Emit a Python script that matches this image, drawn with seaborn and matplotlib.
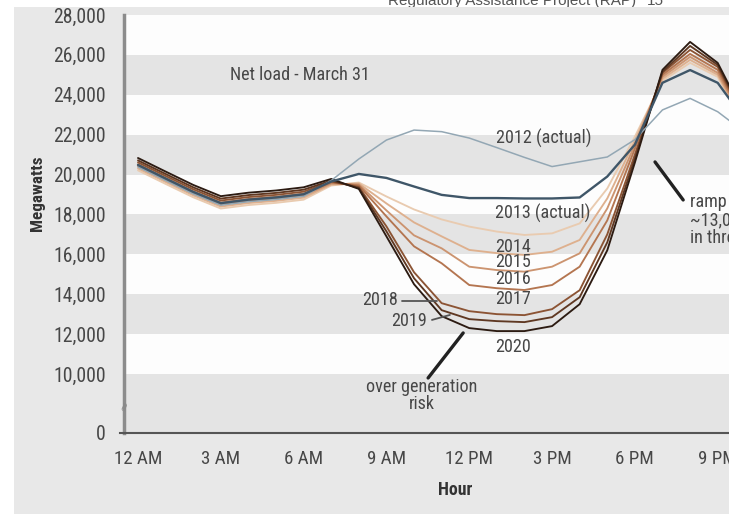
import os
import numpy as np
import pandas as pd
import matplotlib
matplotlib.use("Agg")
import matplotlib.pyplot as plt
import matplotlib.patheffects as pe
import seaborn as sns
from matplotlib import font_manager
from matplotlib.font_manager import FontProperties
from matplotlib.patches import Rectangle

# ---------------- data ----------------
hours = list(range(24))
years = ["2012", "2013", "2014", "2015", "2016", "2017", "2018", "2019", "2020"]

mw_2012 = [20380, 19700, 19030, 18465, 18640, 18750, 18910, 19700, 20780, 21730, 22230, 22150,
           21830, 21350, 20860, 20400, 20640, 20880, 21750, 23240, 23820, 23150, 22100, 21000]
mw_2013 = [20480, 19800, 19130, 18565, 18740, 18850, 19010, 19650, 20030, 19830, 19400, 18980,
           18820, 18820, 18800, 18800, 18850, 19900, 21500, 24600, 25240, 24600, 22700, 21500]
mw_2014 = [20210, 19530, 18860, 18295, 18470, 18580, 18740, 19450, 19600, 18900, 18250, 17750,
           17390, 17140, 16970, 17050, 17550, 19300, 21900, 24700, 25600, 24900, 22300, 21200]
mw_2015 = [20310, 19630, 18960, 18395, 18570, 18680, 18840, 19500, 19550, 18550, 17600, 16900,
           16220, 16060, 15970, 16130, 16720, 18800, 21700, 24800, 25750, 25000, 22400, 21300]
mw_2016 = [20410, 19730, 19060, 18495, 18670, 18780, 18940, 19550, 19500, 18200, 16950, 16300,
           15380, 15210, 15130, 15380, 16050, 18300, 21500, 24900, 25900, 25100, 22500, 21400]
mw_2017 = [20510, 19830, 19160, 18595, 18770, 18880, 19040, 19600, 19450, 17900, 16400, 15550,
           14460, 14300, 14210, 14460, 15380, 17700, 21300, 25000, 26050, 25250, 22600, 21500]
mw_2018 = [20610, 19930, 19260, 18695, 18870, 18980, 19140, 19650, 19380, 17400, 15100, 13550,
           13150, 13000, 12950, 13250, 14200, 17000, 21000, 25100, 26250, 25400, 22700, 21550]
mw_2019 = [20710, 20030, 19360, 18795, 18970, 19080, 19240, 19700, 19330, 17150, 14800, 13200,
           12750, 12650, 12600, 12850, 13850, 16600, 20800, 25150, 26450, 25500, 22800, 21600]
mw_2020 = [20830, 20150, 19480, 18915, 19090, 19200, 19360, 19780, 19280, 16900, 14500, 12900,
           12300, 12150, 12150, 12400, 13500, 16200, 20600, 25250, 26650, 25600, 22900, 21700]

series = [mw_2012, mw_2013, mw_2014, mw_2015, mw_2016, mw_2017, mw_2018, mw_2019, mw_2020]

xtick_hours = [0, 3, 6, 9, 12, 15, 18, 21]
xtick_labels = ["12 AM", "3 AM", "6 AM", "9 AM", "12 PM", "3 PM", "6 PM", "9 PM"]
ytick_values = [0, 10000, 12000, 14000, 16000, 18000, 20000, 22000, 24000, 26000, 28000]

# ---------------- fonts ----------------
sns.set_style("white")
plt.rcParams["font.family"] = ["Liberation Sans", "DejaVu Sans"]


def wnum(w):
    if isinstance(w, (int, float)):
        return int(w)
    return font_manager.weight_dict.get(str(w), 400)


def pick_condensed(bold):
    best, best_score = None, None
    for f in font_manager.fontManager.ttflist:
        nm = f.name.lower()
        fn = os.path.basename(f.fname).lower()
        cond = ("narrow" in nm or "condensed" in nm or "condensed" in fn or "narrow" in fn
                or str(f.stretch) in ("condensed", "semi-condensed"))
        if not cond or f.style != "normal":
            continue
        if "extra" in fn or "ultra" in fn or "semi" in fn or "italic" in fn:
            continue
        w = wnum(f.weight)
        target = 700 if bold else 420
        score = abs(w - target)
        if "roboto" in nm:
            score -= 40
        elif "liberation" in nm:
            score -= 30
        elif "noto" in nm:
            score -= 20
        if best_score is None or score < best_score:
            best, best_score = (f.fname, w), score
    return best


reg = pick_condensed(False)
bold = pick_condensed(True)

OUTER = "#e8e8e8"
BAND = "#e4e4e4"
TXT = "#474747"

fig = plt.figure(figsize=(7.29, 5.14), dpi=100, facecolor=OUTER)
W, H = 729, 514
renderer = fig.canvas.get_renderer()


def make_fp(info, fallback_weight):
    if info:
        return lambda s: FontProperties(fname=info[0], size=s)
    return lambda s: FontProperties(family=["Liberation Sans", "DejaVu Sans"],
                                    weight=fallback_weight, size=s)


FPr = make_fp(reg, "normal")
FPb = make_fp(bold, "bold")


def fit(fpf, text, target_px):
    w, h, d = renderer.get_text_width_height_descent(text, fpf(10), ismath=False)
    return 10 * target_px / w


reg_effects = []
if reg and reg[1] < 400:
    reg_effects = [pe.withStroke(linewidth=0.6, foreground=TXT)]

s_ytick = min(fit(FPr, "28,000", 52), 17)
s_xtick = min(fit(FPr, "12 AM", 48), 17)
s_ann = min((fit(FPr, "Net load - March 31", 140) + fit(FPr, "2012 (actual)", 95)
             + fit(FPr, "over generation", 110)) / 3, 16)
s_mw = min(fit(FPb, "Megawatts", 75), 16)
s_hour = min(fit(FPb, "Hour", 34), 16)

colors = {
    "2012": "#93a7b4",
    "2013": "#3f5668",
    "2014": "#e9cbb0",
    "2015": "#deb08e",
    "2016": "#cc9470",
    "2017": "#b47550",
    "2018": "#8c5434",
    "2019": "#5f3822",
    "2020": "#2c1b12",
}
widths = {"2012": 1.1, "2013": 1.7}
zorders = {"2012": 4, "2013": 5}

# white strips at left and top
fig.patches.append(Rectangle((0, 0), 14 / W, 1, transform=fig.transFigure,
                             facecolor="white", edgecolor="none", zorder=-5))
fig.patches.append(Rectangle((0, 1 - 7 / H), 1, 7 / H, transform=fig.transFigure,
                             facecolor="white", edgecolor="none", zorder=-5))
hdr = FontProperties(family=["Liberation Sans", "DejaVu Sans"], size=11)
fig.text(388 / W, 1 - 5 / H, "Regulatory Assistance Project (RAP)", fontproperties=hdr,
         color="#555555", va="baseline", ha="left")
fig.text(647 / W, 1 - 5 / H, "15", fontproperties=hdr, color="#555555", va="baseline", ha="left")
fig.patches.append(Rectangle((370 / W, 1 - 15 / H), 1, 8 / H, transform=fig.transFigure,
                             facecolor=OUTER, edgecolor="none", zorder=6))

ax = fig.add_axes([124 / W, (H - 433) / H, (W - 124) / W, (433 - 15) / H])
ax.set_facecolor("#fdfdfd")

# broken (compressed) axis below 10,000
K = 0.296


def fwd(v):
    v = np.asarray(v, dtype=float)
    return np.where(v >= 10000, v, 10000 - (10000 - v) * K)


def inv(u):
    u = np.asarray(u, dtype=float)
    return np.where(u >= 10000, u, 10000 - (10000 - u) / K)


ax.set_yscale("function", functions=(fwd, inv))

# bands
for lo, hi in [(0, 10000), (12000, 14000), (16000, 18000), (20000, 22000), (24000, 26000)]:
    ax.axhspan(lo, hi, color=BAND, lw=0, zorder=0)

# lines
rows = []
for yr, vals in zip(years, series):
    for h, v in zip(hours, vals):
        rows.append({"hour": h, "mw": v, "year": yr})
df = pd.DataFrame(rows)

for yr in years:
    sub = df[df["year"] == yr]
    sns.lineplot(data=sub, x="hour", y="mw", color=colors[yr], lw=widths.get(yr, 1.35),
                 ax=ax, legend=False, zorder=zorders.get(yr, 3), solid_joinstyle="round")

ax.set_xticks(xtick_hours)
ax.set_xticks(hours, minor=True)
ax.set_yticks(ytick_values)
ax.set_xticklabels(xtick_labels, fontproperties=FPr(s_xtick))
ax.set_yticklabels([f"{v:,}" for v in ytick_values], fontproperties=FPr(s_ytick))
ax.set_xlim(-0.507, 21.41)
ax.set_ylim(0, 28000)
for lab in ax.get_xticklabels() + ax.get_yticklabels():
    lab.set_path_effects(reg_effects)

ax.tick_params(axis="x", which="major", direction="out", length=4, width=1.2, color="#666666",
               labelcolor=TXT, pad=8)
ax.tick_params(axis="x", which="minor", direction="out", length=3, width=1.0, color="#666666")
ax.tick_params(axis="y", which="major", direction="out", length=5, width=1.2, color="#888888",
               labelcolor=TXT, pad=8)
ax.tick_params(axis="y", which="minor", length=0)

for s in ["top", "right"]:
    ax.spines[s].set_visible(False)
ax.spines["left"].set_color("#8c8c8c")
ax.spines["left"].set_linewidth(2.5)
ax.spines["bottom"].set_color("#555555")
ax.spines["bottom"].set_linewidth(1.5)
ax.spines["bottom"].set_bounds(-0.65, 21.41)

ax.set_xlabel("")
ax.set_ylabel("")
fig.text(37 / W, 1 - 193 / H, "Megawatts", rotation=90, fontproperties=FPb(s_mw),
         color="#333333", ha="center", va="center")
fig.text(455 / W, 1 - 490 / H, "Hour", fontproperties=FPb(s_hour),
         color="#333333", ha="center", va="center")

# axis break mark
ax.text(-0.5, 4700, "\u2248", rotation=75, fontsize=9, color="#888888",
        ha="center", va="center", family=["DejaVu Sans"], clip_on=False, zorder=7)


def label(x, y, s, ha="left", **kw):
    t = ax.text(x, y, s, fontproperties=FPr(s_ann), color=TXT, ha=ha, va="center",
                zorder=8, **kw)
    t.set_path_effects(reg_effects)
    return t


# annotations
label(3.33, 24970, "Net load - March 31")
label(12.97, 21835, "2012 (actual)")
label(12.93, 18049, "2013 (actual)")
label(12.93, 16384, "2014")
label(12.93, 15592, "2015")
label(12.93, 14760, "2016")
label(12.93, 13760, "2017")
label(12.93, 11330, "2020")

label(9.43, 13690, "2018", ha="right")
ax.plot([9.57, 10.83], [13660, 13660], color="#555555", lw=1.3, zorder=6)
label(10.45, 12660, "2019", ha="right")
ax.plot([10.65, 11.3], [12710, 12960], color="#555555", lw=1.3, zorder=6)

label(10.29, 6358, "over generation\nrisk", ha="center", linespacing=0.95)
ax.plot([10.51, 11.78], [9321, 12056], color="#222222", lw=2.4, zorder=6)

label(20.0, 17723, "ramp need\n~13,000 MW\nin three hours", linespacing=1.0, clip_on=True)
ax.plot([18.73, 19.75], [20632, 18726], color="#222222", lw=2.4, zorder=6)

fig.savefig("out.png", dpi=100, facecolor=OUTER)
